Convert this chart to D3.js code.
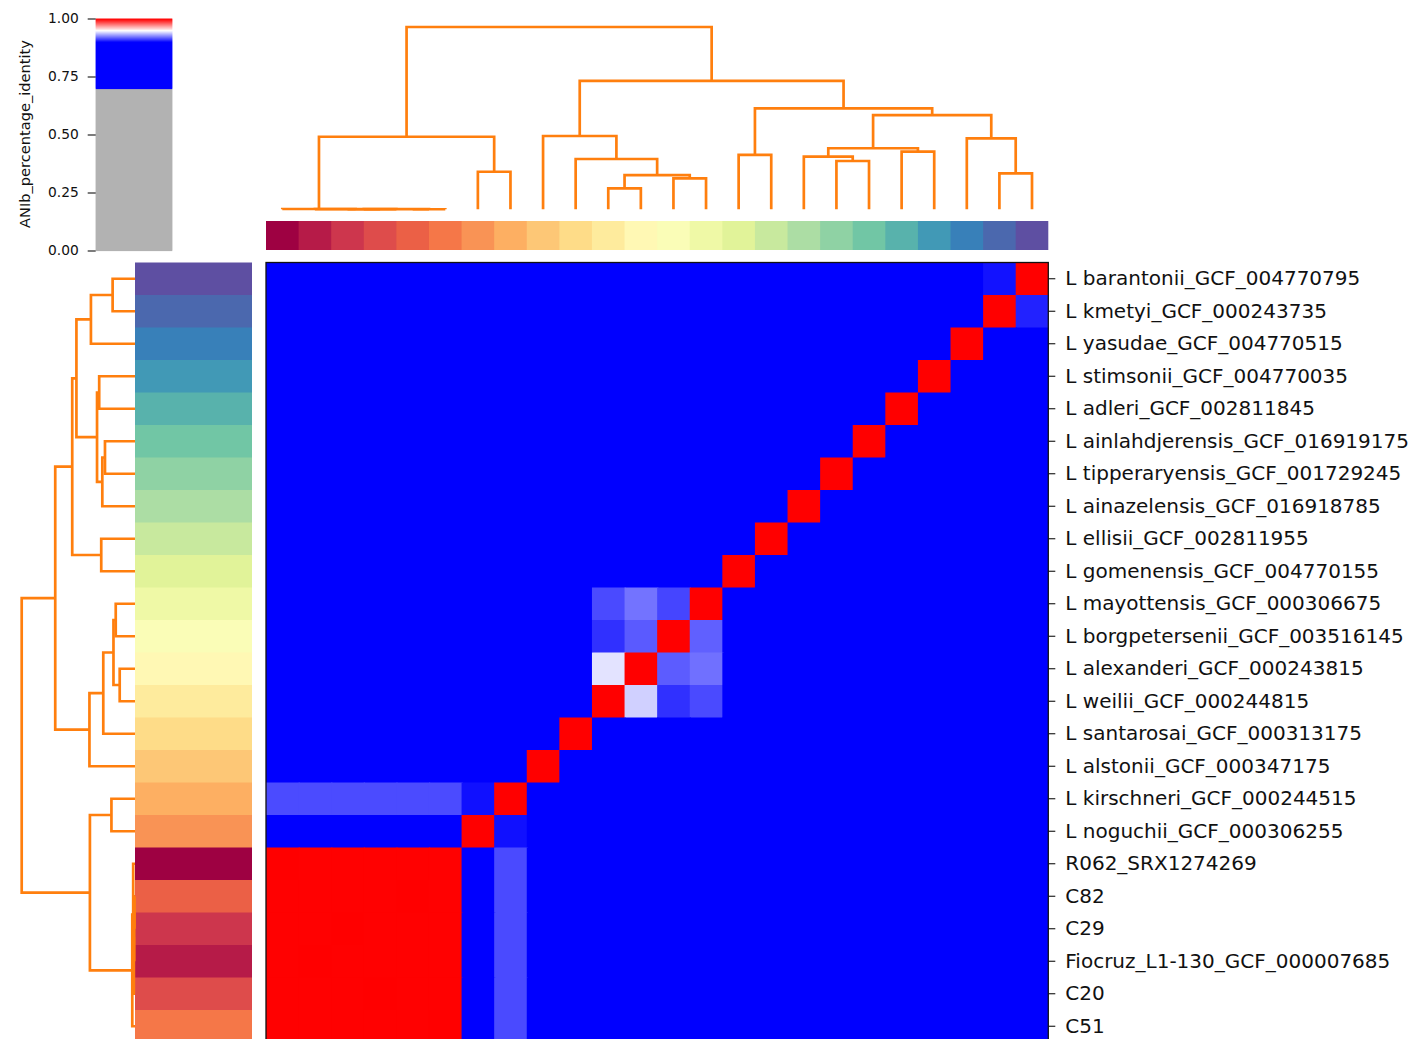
<!DOCTYPE html>
<html>
<head>
<meta charset="utf-8">
<script src="https://cdn.jsdelivr.net/npm/d3@7"></script>
<style>
  html, body { margin: 0; padding: 0; background: #fff; }
  svg { display: block; font-family: "DejaVu Sans", sans-serif; }
</style>
</head>
<body>
<svg id="chart" width="1424" height="1039"></svg>
<script>
// Genomes, indexed in the order used for the annotation palette (column order)
const genomes = [
  "R062_SRX1274269",
  "Fiocruz_L1-130_GCF_000007685",
  "C29",
  "C20",
  "C82",
  "C51",
  "L noguchii_GCF_000306255",
  "L kirschneri_GCF_000244515",
  "L alstonii_GCF_000347175",
  "L santarosai_GCF_000313175",
  "L weilii_GCF_000244815",
  "L alexanderi_GCF_000243815",
  "L borgpetersenii_GCF_003516145",
  "L mayottensis_GCF_000306675",
  "L gomenensis_GCF_004770155",
  "L ellisii_GCF_002811955",
  "L ainazelensis_GCF_016918785",
  "L tipperaryensis_GCF_001729245",
  "L ainlahdjerensis_GCF_016919175",
  "L adleri_GCF_002811845",
  "L stimsonii_GCF_004770035",
  "L yasudae_GCF_004770515",
  "L kmetyi_GCF_000243735",
  "L barantonii_GCF_004770795"
];

// Leaf orders produced by the two dendrograms
const colOrder = [0, 1, 2, 3, 4, 5, 6, 7, 8, 9, 10, 11, 12, 13, 14, 15, 16, 17, 18, 19, 20, 21, 22, 23];
const rowOrder = [23, 22, 21, 20, 19, 18, 17, 16, 15, 14, 13, 12, 11, 10, 9, 8, 7, 6, 0, 4, 2, 1, 3, 5];

// ANIb percentage identity (query genome = row, subject genome = column)
const ani = [
  [1.000, 0.9999, 0.9999, 0.9999, 0.9999, 0.9999, 0.835, 0.9145, 0.801, 0.822, 0.823, 0.821, 0.824, 0.822, 0.812, 0.811, 0.809, 0.810, 0.809, 0.811, 0.810, 0.812, 0.811, 0.810],
  [0.9999, 1.000, 0.9999, 0.9999, 0.9999, 0.9999, 0.836, 0.9146, 0.802, 0.822, 0.823, 0.822, 0.824, 0.822, 0.812, 0.811, 0.810, 0.810, 0.809, 0.811, 0.810, 0.812, 0.811, 0.810],
  [0.9999, 0.9999, 1.000, 0.9999, 0.9999, 0.9999, 0.835, 0.9145, 0.801, 0.821, 0.823, 0.821, 0.823, 0.822, 0.812, 0.811, 0.809, 0.810, 0.809, 0.811, 0.810, 0.811, 0.811, 0.810],
  [0.9999, 0.9999, 0.9999, 1.000, 0.9999, 0.9999, 0.835, 0.9146, 0.801, 0.822, 0.823, 0.821, 0.824, 0.822, 0.812, 0.811, 0.809, 0.810, 0.809, 0.811, 0.810, 0.812, 0.811, 0.810],
  [0.9999, 0.9999, 0.9999, 0.9999, 1.000, 0.9999, 0.835, 0.9145, 0.801, 0.822, 0.822, 0.821, 0.824, 0.822, 0.812, 0.811, 0.809, 0.810, 0.809, 0.811, 0.810, 0.812, 0.811, 0.810],
  [0.9999, 0.9999, 0.9999, 0.9999, 0.9999, 1.000, 0.835, 0.9146, 0.801, 0.822, 0.823, 0.821, 0.824, 0.822, 0.812, 0.811, 0.809, 0.810, 0.809, 0.811, 0.810, 0.812, 0.811, 0.810],
  [0.836, 0.836, 0.836, 0.836, 0.836, 0.836, 1.000, 0.9031, 0.803, 0.824, 0.824, 0.822, 0.825, 0.823, 0.813, 0.812, 0.810, 0.811, 0.810, 0.812, 0.811, 0.813, 0.812, 0.811],
  [0.9147, 0.9147, 0.9147, 0.9147, 0.9147, 0.9147, 0.9031, 1.000, 0.802, 0.823, 0.823, 0.822, 0.824, 0.823, 0.812, 0.811, 0.810, 0.810, 0.809, 0.811, 0.810, 0.812, 0.811, 0.810],
  [0.802, 0.802, 0.802, 0.802, 0.802, 0.802, 0.804, 0.803, 1.000, 0.806, 0.805, 0.804, 0.806, 0.805, 0.801, 0.800, 0.799, 0.800, 0.799, 0.801, 0.800, 0.801, 0.800, 0.800],
  [0.823, 0.823, 0.823, 0.823, 0.823, 0.823, 0.825, 0.824, 0.806, 1.000, 0.864, 0.862, 0.866, 0.863, 0.816, 0.815, 0.813, 0.814, 0.813, 0.815, 0.814, 0.815, 0.814, 0.814],
  [0.824, 0.824, 0.824, 0.824, 0.824, 0.824, 0.825, 0.824, 0.805, 0.865, 1.000, 0.9408, 0.9094, 0.9145, 0.816, 0.815, 0.813, 0.814, 0.813, 0.815, 0.814, 0.815, 0.814, 0.814],
  [0.822, 0.822, 0.822, 0.822, 0.822, 0.822, 0.823, 0.822, 0.804, 0.862, 0.9445, 1.000, 0.918, 0.922, 0.815, 0.814, 0.812, 0.813, 0.812, 0.814, 0.813, 0.814, 0.813, 0.813],
  [0.825, 0.825, 0.825, 0.825, 0.825, 0.825, 0.826, 0.825, 0.806, 0.866, 0.9094, 0.9176, 1.000, 0.9188, 0.817, 0.816, 0.814, 0.815, 0.814, 0.816, 0.815, 0.816, 0.815, 0.815],
  [0.823, 0.823, 0.823, 0.823, 0.823, 0.823, 0.824, 0.823, 0.805, 0.863, 0.9145, 0.9225, 0.9135, 1.000, 0.816, 0.815, 0.813, 0.814, 0.813, 0.815, 0.814, 0.815, 0.814, 0.814],
  [0.812, 0.812, 0.812, 0.812, 0.812, 0.812, 0.813, 0.812, 0.801, 0.816, 0.816, 0.815, 0.817, 0.816, 1.000, 0.884, 0.842, 0.843, 0.842, 0.841, 0.842, 0.840, 0.841, 0.840],
  [0.811, 0.811, 0.811, 0.811, 0.811, 0.811, 0.812, 0.811, 0.800, 0.815, 0.815, 0.814, 0.816, 0.815, 0.884, 1.000, 0.841, 0.842, 0.841, 0.840, 0.841, 0.839, 0.840, 0.839],
  [0.809, 0.809, 0.809, 0.809, 0.809, 0.809, 0.810, 0.810, 0.799, 0.813, 0.813, 0.812, 0.814, 0.813, 0.842, 0.841, 1.000, 0.887, 0.889, 0.862, 0.863, 0.842, 0.843, 0.842],
  [0.810, 0.810, 0.810, 0.810, 0.810, 0.810, 0.811, 0.810, 0.800, 0.814, 0.814, 0.813, 0.815, 0.814, 0.843, 0.842, 0.887, 1.000, 0.893, 0.863, 0.864, 0.843, 0.844, 0.843],
  [0.809, 0.809, 0.809, 0.809, 0.809, 0.809, 0.810, 0.809, 0.799, 0.813, 0.813, 0.812, 0.814, 0.813, 0.842, 0.841, 0.889, 0.893, 1.000, 0.862, 0.863, 0.842, 0.843, 0.842],
  [0.811, 0.811, 0.811, 0.811, 0.811, 0.811, 0.812, 0.811, 0.801, 0.815, 0.815, 0.814, 0.816, 0.815, 0.841, 0.840, 0.862, 0.863, 0.862, 1.000, 0.881, 0.845, 0.846, 0.845],
  [0.810, 0.810, 0.810, 0.810, 0.810, 0.810, 0.811, 0.810, 0.800, 0.814, 0.814, 0.813, 0.815, 0.814, 0.842, 0.841, 0.863, 0.864, 0.863, 0.881, 1.000, 0.846, 0.847, 0.846],
  [0.812, 0.812, 0.812, 0.812, 0.812, 0.812, 0.813, 0.812, 0.801, 0.815, 0.815, 0.814, 0.816, 0.815, 0.840, 0.839, 0.842, 0.843, 0.842, 0.845, 0.846, 1.000, 0.868, 0.866],
  [0.811, 0.811, 0.811, 0.811, 0.811, 0.811, 0.812, 0.811, 0.800, 0.814, 0.814, 0.813, 0.815, 0.814, 0.841, 0.840, 0.843, 0.844, 0.843, 0.846, 0.847, 0.868, 1.000, 0.9067],
  [0.810, 0.810, 0.810, 0.810, 0.810, 0.810, 0.811, 0.810, 0.800, 0.814, 0.814, 0.813, 0.815, 0.814, 0.840, 0.839, 0.842, 0.843, 0.842, 0.845, 0.846, 0.866, 0.9035, 1.000]
];

// Linkage merges: [child a, child b, height]; leaves 0..23 are display positions,
// merge k creates node 24 + k.
const colLinkage = [
  [2, 3, 0.0004], [4, 5, 0.0004], [24, 25, 0.0008], [1, 26, 0.0012], [0, 27, 0.0016],
  [6, 7, 0.206], [28, 29, 0.398],
  [10, 11, 0.115], [12, 13, 0.170], [31, 32, 0.188], [9, 33, 0.276], [8, 34, 0.402],
  [14, 15, 0.298], [17, 18, 0.265], [16, 37, 0.2885], [19, 20, 0.316], [38, 39, 0.335],
  [22, 23, 0.1975], [21, 41, 0.389], [40, 42, 0.517], [36, 43, 0.554],
  [35, 44, 0.704], [30, 45, 1.000]
];
const rowLinkage = [
  [0, 1, 0.1975], [24, 2, 0.389], [5, 6, 0.265], [26, 7, 0.2885], [3, 4, 0.316],
  [28, 27, 0.335], [25, 29, 0.517], [8, 9, 0.298], [30, 31, 0.554],
  [10, 11, 0.170], [12, 13, 0.135], [33, 34, 0.190], [35, 14, 0.280], [36, 15, 0.402],
  [32, 37, 0.704], [16, 17, 0.208],
  [19, 20, 0.004], [40, 21, 0.007], [41, 22, 0.010], [18, 42, 0.016], [43, 23, 0.024],
  [39, 44, 0.398], [38, 45, 1.000]
];

const cbarTicks = [0, 0.25, 0.5, 0.75, 1];
const cbarLabel = "ANIb_percentage_identity";

// Spectral colormap anchors, sampled evenly for the genome annotation colours
const spectralAnchors = ["#9e0142", "#d53e4f", "#f46d43", "#fdae61", "#fee08b", "#ffffbf",
                         "#e6f598", "#abdda4", "#66c2a5", "#3288bd", "#5e4fa2"];
const spectral = d3.piecewise(d3.interpolateRgb, spectralAnchors);
const genomeColors = genomes.map((g, i) => {
  const k = Math.min(255, Math.floor(i / (genomes.length - 1) * 256));
  return spectral(k / 255);
});

// Grey below 0.7, blue up to 0.9, then blue -> white -> red towards identity
const color = d3.scaleLinear()
  .domain([0, 0.7, 0.7000001, 0.9, 0.95, 1])
  .range(["#b3b3b3", "#b3b3b3", "#0000ff", "#0000ff", "#ffffff", "#ff0000"])
  .clamp(true);

const svg = d3.select("#chart");
svg.append("rect").attr("width", 1424).attr("height", 1039).attr("fill", "#fff");

const hm = { x0: 266, x1: 1048.3, y0: 262.5, y1: 1042.5 };
const xBand = d3.scaleBand().domain(d3.range(colOrder.length)).range([hm.x0, hm.x1]);
const yBand = d3.scaleBand().domain(d3.range(rowOrder.length)).range([hm.y0, hm.y1]);
const xPos = d3.scaleLinear().domain([-0.5, colOrder.length - 0.5]).range([hm.x0, hm.x1]);
const yPos = d3.scaleLinear().domain([-0.5, rowOrder.length - 0.5]).range([hm.y0, hm.y1]);

// Heatmap cells (each overlaps its neighbour slightly so no seams show)
const cells = [];
rowOrder.forEach((gi, r) => colOrder.forEach((gj, c) => cells.push({ r, c, v: ani[gi][gj] })));
const clip = svg.append("clipPath").attr("id", "hmclip");
clip.append("rect").attr("x", hm.x0).attr("y", hm.y0)
  .attr("width", hm.x1 - hm.x0).attr("height", hm.y1 - hm.y0);
svg.append("g").attr("clip-path", "url(#hmclip)")
  .selectAll("rect").data(cells).join("rect")
  .attr("x", d => xBand(d.c))
  .attr("y", d => yBand(d.r))
  .attr("width", xBand.bandwidth() + 1.2)
  .attr("height", yBand.bandwidth() + 1.2)
  .attr("fill", d => color(d.v));
svg.append("rect")
  .attr("x", hm.x0).attr("y", hm.y0)
  .attr("width", hm.x1 - hm.x0).attr("height", hm.y1 - hm.y0)
  .attr("fill", "none").attr("stroke", "#111").attr("stroke-width", 1.3);

// Column annotation strip
svg.append("g").selectAll("rect").data(colOrder).join("rect")
  .attr("x", (g, c) => xBand(c))
  .attr("y", 221)
  .attr("width", (g, c) => xBand.bandwidth() + (c < colOrder.length - 1 ? 1 : 0))
  .attr("height", 29)
  .attr("fill", g => genomeColors[g]);

// Row annotation strip
svg.append("g").selectAll("rect").data(rowOrder).join("rect")
  .attr("x", 135)
  .attr("y", (g, r) => yBand(r))
  .attr("width", 117)
  .attr("height", yBand.bandwidth() + 1)
  .attr("fill", g => genomeColors[g]);

// Row labels on the right
const rowAxis = d3.axisRight(yBand)
  .tickSize(7).tickPadding(10)
  .tickFormat(r => genomes[rowOrder[r]]);
const ra = svg.append("g").attr("transform", `translate(${hm.x1},0)`).call(rowAxis);
ra.select(".domain").remove();
ra.selectAll("line").attr("stroke", "#111").attr("stroke-width", 1.1);
ra.selectAll("text").attr("fill", "#111").attr("font-size", 20)
  .attr("font-family", "DejaVu Sans, sans-serif");

// Dendrograms
function segments(linkage, n) {
  const nodes = d3.range(n).map(i => ({ p: i, h: 0 }));
  return linkage.map(([a, b, h]) => {
    const A = nodes[a], B = nodes[b];
    nodes.push({ p: (A.p + B.p) / 2, h });
    return { a: A, b: B, h };
  });
}
const dendroStyle = sel => sel.attr("fill", "none").attr("stroke", "#ff7f0e")
  .attr("stroke-width", 2.7).attr("stroke-linejoin", "miter");

const topH = d3.scaleLinear().domain([0, 1]).range([209.3, 27]);
svg.append("g").selectAll("path").data(segments(colLinkage, colOrder.length)).join("path")
  .attr("d", s => `M${xPos(s.a.p)},${topH(s.a.h)}V${topH(s.h)}H${xPos(s.b.p)}V${topH(s.b.h)}`)
  .call(dendroStyle);

const leftH = d3.scaleLinear().domain([0, 1]).range([135, 21.7]);
svg.append("g").selectAll("path").data(segments(rowLinkage, rowOrder.length)).join("path")
  .attr("d", s => `M${leftH(s.a.h)},${yPos(s.a.p)}H${leftH(s.h)}V${yPos(s.b.p)}H${leftH(s.b.h)}`)
  .call(dendroStyle);

// Colour bar
const cb = { x: 95.7, w: 76.6 };
const cbY = d3.scaleLinear().domain([0, 1]).range([250.5, 18.5]);
const steps = d3.range(0, 232).map(i => i / 232);
svg.append("g").selectAll("rect").data(steps).join("rect")
  .attr("x", cb.x).attr("width", cb.w)
  .attr("y", v => cbY(v + 1 / 232))
  .attr("height", cbY(0) - cbY(1 / 232) + 0.6)
  .attr("fill", v => color(v + 0.5 / 232));
const cbAxis = d3.axisLeft(cbY).tickValues(cbarTicks).tickFormat(d3.format(".2f"))
  .tickSize(8).tickPadding(9);
const ca = svg.append("g").attr("transform", `translate(${cb.x},0)`).call(cbAxis);
ca.select(".domain").remove();
ca.selectAll("line").attr("stroke", "#111").attr("stroke-width", 1.1);
ca.selectAll("text").attr("fill", "#111").attr("font-size", 13.8)
  .attr("font-family", "DejaVu Sans, sans-serif");
svg.append("text")
  .attr("transform", "translate(29.5,134) rotate(-90)")
  .attr("text-anchor", "middle")
  .attr("font-size", 14.6)
  .attr("fill", "#111")
  .text(cbarLabel);
</script>
</body>
</html>
